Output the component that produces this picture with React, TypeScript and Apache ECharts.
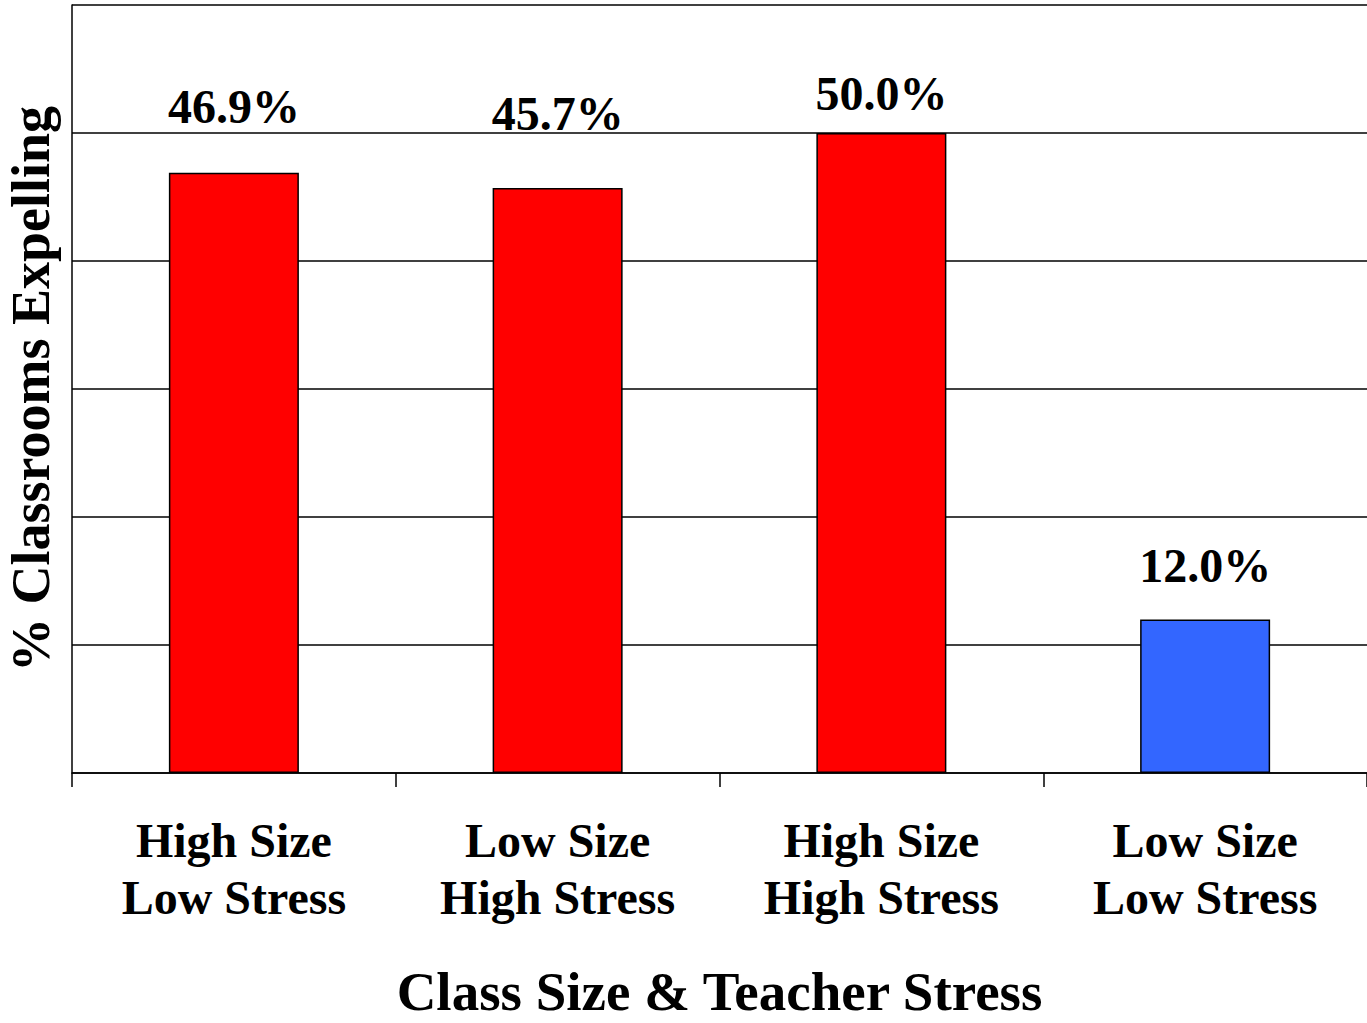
import React, { useEffect, useRef } from "react";
import * as echarts from "echarts";

const categories = ["High Size\nLow Stress", "Low Size\nHigh Stress", "High Size\nHigh Stress", "Low Size\nLow Stress"];
const values = [46.9, 45.7, 50.0, 12.0];
const barColors = ["#FF0000", "#FF0000", "#FF0000", "#3366FF"];
const labelDistances = [42, 51, 16, 30];
const yMin = 0;
const yMax = 60;
const yInterval = 10;

const FONT = '"Liberation Serif", "Times New Roman", serif';

export default function App() {
  const ref = useRef<HTMLDivElement>(null);
  useEffect(() => {
    if (!ref.current) return;
    const chart = echarts.init(ref.current, null, { renderer: "svg" });
    chart.setOption({
      animation: false,
      backgroundColor: "#ffffff",
      grid: { left: 72, top: 5, right: 0, bottom: 250, containLabel: false, outerBoundsMode: "none" },
      xAxis: {
        type: "category",
        data: categories,
        name: "Class Size & Teacher Stress",
        nameLocation: "middle",
        nameGap: 194,
        nameTextStyle: { fontFamily: FONT, fontWeight: "bold", fontSize: 55, color: "#000", lineHeight: 48 },
        axisLine: { show: true, lineStyle: { color: "#000", width: 1.5 } },
        axisTick: { show: true, alignWithLabel: false, length: 14, lineStyle: { color: "#000", width: 1.5 } },
        axisLabel: {
          interval: 0,
          margin: 39,
          fontFamily: FONT,
          fontWeight: "bold",
          fontSize: 48,
          lineHeight: 57,
          color: "#000",
        },
        splitLine: { show: false },
      },
      yAxis: {
        type: "value",
        min: yMin,
        max: yMax,
        interval: yInterval,
        name: "% Classrooms Expelling",
        nameLocation: "middle",
        nameGap: 14,
        nameRotate: 90,
        nameTextStyle: { fontFamily: FONT, fontWeight: "bold", fontSize: 54, color: "#000", lineHeight: 54 },
        axisLine: { show: true, lineStyle: { color: "#000", width: 1.5 } },
        axisTick: { show: false },
        axisLabel: { show: false },
        splitLine: { show: true, lineStyle: { color: "#000", width: 1.5 } },
      },
      series: [
        {
          type: "bar",
          barWidth: 130,
          data: values.map((v, i) => ({
            value: v,
            itemStyle: { color: barColors[i], borderColor: "#000", borderWidth: 1.5 },
            label: {
              show: true,
              position: "top",
              distance: labelDistances[i],
              formatter: (p: any) => p.value.toFixed(1) + "%",
              fontFamily: FONT,
              fontWeight: "bold",
              fontSize: 48,
              lineHeight: 48,
              color: "#000",
            },
          })),
        },
      ],
    });
    return () => chart.dispose();
  }, []);
  return (
    <div
      ref={ref}
      style={{ position: "absolute", left: 0, top: 0, width: 1367, height: 1023 }}
    />
  );
}
